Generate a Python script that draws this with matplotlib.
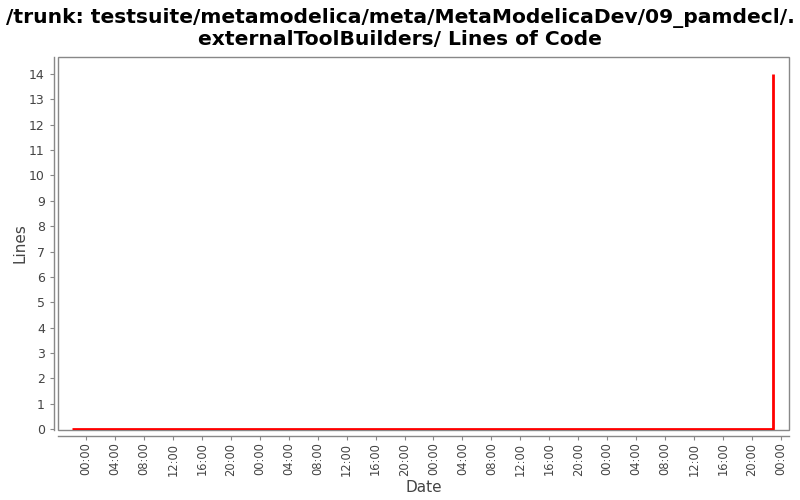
import matplotlib
matplotlib.use("Agg")
import matplotlib.pyplot as plt
import matplotlib.dates as mdates
from matplotlib.patches import Rectangle
import datetime as dt

# Data
times = [dt.datetime(2009, 12, 31, 22, 4), dt.datetime(2010, 1, 4, 22, 54), dt.datetime(2010, 1, 4, 22, 54)]
lines = [0, 0, 14]
yticks = list(range(0, 15))
title = "/trunk: testsuite/metamodelica/meta/MetaModelicaDev/09_pamdecl/.\nexternalToolBuilders/ Lines of Code"

fig = plt.figure(figsize=(8, 5), dpi=100)
ax = fig.add_axes([58/800, 1-430/500, (789-58)/800, (430-57)/500])

ax.add_patch(Rectangle((0, 0), 1, 1, transform=ax.transAxes, fill=False,
                       edgecolor="#888888", linewidth=1, zorder=1, clip_on=False))
ax.plot(times, lines, color="#ff0000", linewidth=2, solid_capstyle="butt", zorder=3)

ax.set_xlim(dt.datetime(2010, 1, 1) - dt.timedelta(days=0.161), dt.datetime(2010, 1, 1) + dt.timedelta(days=4.046))
ax.set_ylim(-0.03, 14.67)
ax.set_yticks(yticks)
ax.xaxis.set_major_locator(mdates.HourLocator(byhour=[0, 4, 8, 12, 16, 20]))
ax.xaxis.set_major_formatter(mdates.DateFormatter("%H:%M"))

for s in ["top", "right"]:
    ax.spines[s].set_visible(False)
ax.spines["left"].set_position(("outward", 3))
ax.spines["bottom"].set_position(("outward", 4))
for s in ["left", "bottom"]:
    ax.spines[s].set_color("#888888")
    ax.spines[s].set_linewidth(1)

ax.tick_params(axis="both", colors="#888888", labelcolor="#444444", labelsize=9, length=3)
ax.tick_params(axis="x", labelrotation=90, labelsize=8.3, pad=2)
ax.set_xlabel("Date", fontsize=11, color="#444444", labelpad=3)
ax.set_ylabel("Lines", fontsize=11, color="#444444", labelpad=1)

fig.suptitle(title, fontsize=14.6, fontweight="bold", y=0.985, linespacing=1.15)

fig.savefig("out.png", dpi=100)
